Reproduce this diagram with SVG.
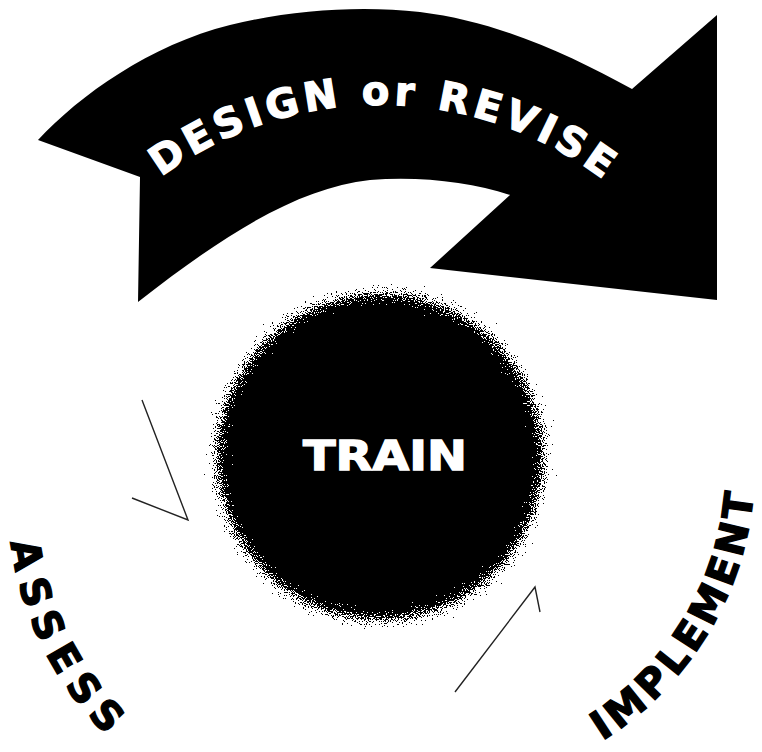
<svg xmlns="http://www.w3.org/2000/svg" width="762" height="752" viewBox="0 0 762 752">
<style>
.lbl{font-family:"DejaVu Sans","Liberation Sans",sans-serif;font-weight:bold;font-size:40px}
.w{fill:#fff;stroke:#fff;stroke-width:1.3}
.k{fill:#000;stroke:#000;stroke-width:1.3}
.thin{fill:none;stroke:#222;stroke-width:1.4;stroke-linejoin:miter}
</style>
<defs>
<filter id="fuzz" x="-30%" y="-30%" width="160%" height="160%" color-interpolation-filters="sRGB">
<feGaussianBlur in="SourceGraphic" stdDeviation="12" result="b"/>
<feTurbulence type="fractalNoise" baseFrequency="0.9" numOctaves="2" seed="7" result="n"/>
<feColorMatrix in="n" type="matrix" values="0 0 0 0 0  0 0 0 0 0  0 0 0 0 0  1.6 0 0 0 -0.3" result="na"/>
<feComposite in="b" in2="na" operator="arithmetic" k1="0" k2="1" k3="0.8" k4="-0.4" result="c"/>
<feComponentTransfer in="c"><feFuncA type="discrete" tableValues="0 1"/></feComponentTransfer>
</filter>
<path id="pDesign" d="M153,183 A370,370 0 0 1 619,192"/>
<path id="pAssess" d="M8,500 A330,330 0 0 0 173,786"/>
<path id="pImpl" d="M567,760 A325,325 0 0 0 750,409"/>
</defs>
<rect width="762" height="752" fill="#fff"/>
<g id="design">
<path fill="#000" d="M38,140 C80,95 150,45 230,25 C290,10 360,5 420,12 C500,22 570,55 632,89 L717,15 L717,300 L430,268 L510,195 C470,182 420,176 370,180 C300,188 230,230 138,302 L140,177 Z"/>
<text class="lbl w" font-size="43"><textPath href="#pDesign" startOffset="10" textLength="474" lengthAdjust="spacing">DESIGN or REVISE</textPath></text>
</g>
<g id="train">
<circle cx="380" cy="457" r="163" fill="#000" filter="url(#fuzz)"/>
<text class="lbl w" x="385" y="470" text-anchor="middle" font-size="38" textLength="164" lengthAdjust="spacingAndGlyphs">TRAIN</text>
</g>
<g id="assess">
<text class="lbl k" font-size="43"><textPath href="#pAssess" startOffset="42" textLength="220" lengthAdjust="spacing">ASSESS</textPath></text>
</g>
<g id="implement">
<text class="lbl k" font-size="42"><textPath href="#pImpl" startOffset="40" textLength="300" lengthAdjust="spacing">IMPLEMENT</textPath></text>
</g>
<g id="connectors">
<polyline class="thin" points="142,400 188,520 132,498"/>
<polyline class="thin" points="455,692 535,587 540,612"/>
</g>
</svg>
